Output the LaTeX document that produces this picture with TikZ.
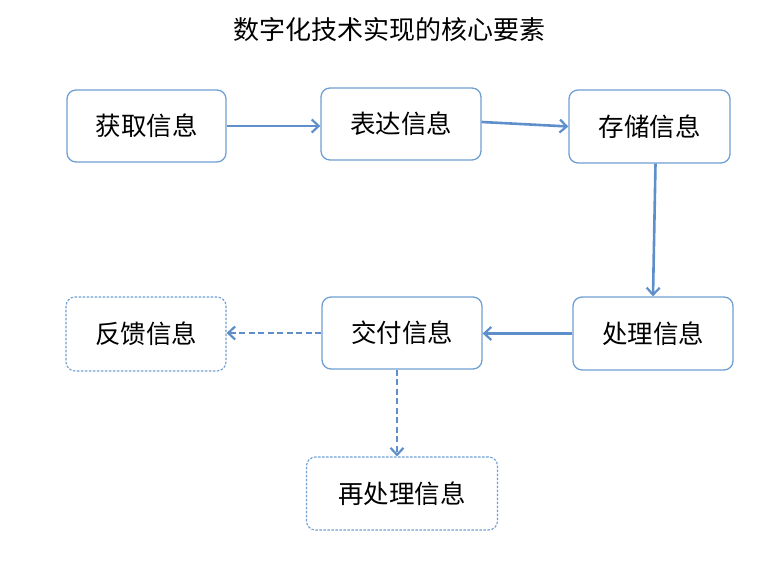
\documentclass[tikz,border=0pt]{standalone}
\usepackage{fontspec}
\newfontfamily\cjk{Noto Sans CJK SC}
\usetikzlibrary{arrows.meta}
\definecolor{boxblue}{HTML}{6F9FD3}
\definecolor{arrblue}{HTML}{5E8FCB}
\tikzset{
  box/.style={draw=boxblue, line width=1.3pt, rounded corners=9pt, fill=white,
    inner sep=0pt, font=\cjk\fontsize{25.5}{25.5}\selectfont, text=black},
  dbox/.style={box, dashed, dash pattern=on 2.5pt off 1.5pt, line width=1.1pt},
  arr/.style={draw=arrblue, line width=2.6pt, -{Straight Barb[length=7pt,width=13pt,line width=2.2pt]}},
  darr/.style={arr, dash pattern=on 6pt off 3.5pt}
}
\begin{document}
\begin{tikzpicture}[x=1pt,y=1pt]
\useasboundingbox (0,0) rectangle (777,577);
\node[font=\cjk\fontsize{26}{26}\selectfont] (title) at (389,547) {数字化技术实现的核心要素};
\node[box, minimum width=159pt, minimum height=72pt] (a) at (146.5,451) {获取信息};
\node[box, minimum width=160pt, minimum height=72pt] (b) at (401,453) {表达信息};
\node[box, minimum width=161pt, minimum height=73pt] (c) at (649.5,450.5) {存储信息};
\node[box, minimum width=160pt, minimum height=73pt] (d) at (653,243.5) {处理信息};
\node[box, minimum width=160pt, minimum height=72pt] (e) at (402,244) {交付信息};
\node[dbox, minimum width=160pt, minimum height=74pt] (f) at (146,243) {反馈信息};
\node[dbox, minimum width=191pt, minimum height=73pt] (g) at (402,83.5) {再处理信息};
\draw[arr] (a.east) -- (b.west |- a.east);
\draw[arr] ([yshift=2pt]b.east) -- (c.west);
\draw[arr] ([xshift=6pt]c.south) -- ([xshift=0pt]d.north);
\draw[arr] (d.west) -- (e.east |- d.west);
\draw[darr] (e.west) -- (f.east |- e.west);
\draw[darr] ([xshift=-5pt]e.south) -- ([xshift=-5pt]e.south |- g.north);
\end{tikzpicture}
\end{document}
